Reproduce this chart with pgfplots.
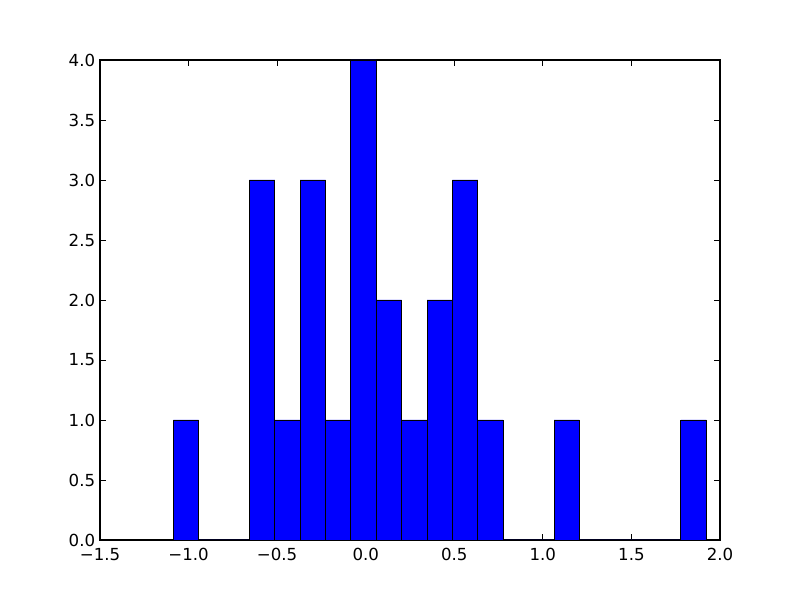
\documentclass[border=0pt]{standalone}
\usepackage{pgfplots}
\pgfplotsset{compat=1.18}
\usepackage{fontspec}
\setmainfont{DejaVu Sans}
\begin{document}
\begin{tikzpicture}
\path[use as bounding box] (-1in,-0.6in) rectangle (7in,5.4in);
\begin{axis}[
    scale only axis,
    width=6.2in, height=4.8in,
    xmin=-1.5, xmax=2.0,
    ymin=0, ymax=4.0,
    xtick={-1.5,-1.0,-0.5,0,0.5,1.0,1.5,2.0},
    xticklabels={−1.5,−1.0,−0.5,0.0,0.5,1.0,1.5,2.0},
    ytick distance=0.5,
    tick align=inside,
    xtick pos=both, ytick pos=both,
    major tick length=4pt,
    axis line style={line width=1pt},
    every tick/.style={black, line width=0.6pt},
    tick label style={font=\fontsize{12}{14}\selectfont},
    xticklabel style={yshift=-2.5pt},
    /pgf/number format/assume math mode=true,
    /pgf/number format/fixed,
    /pgf/number format/fixed zerofill,
    /pgf/number format/precision=1,
  ]
  \addplot[ybar interval, fill=blue, draw=black, line width=0.7pt] coordinates {
    (-1.0862,1) (-0.9429,0) (-0.7997,0) (-0.6564,3) (-0.5131,1)
    (-0.3698,3) (-0.2265,1) (-0.0832,4) (0.0600,2) (0.2033,1)
    (0.3466,2) (0.4899,3) (0.6332,1) (0.7764,0) (0.9197,0)
    (1.0630,1) (1.2063,0) (1.3496,0) (1.4928,0) (1.6361,0)
    (1.7794,1) (1.9227,1)
  };
\end{axis}
\end{tikzpicture}
\end{document}
